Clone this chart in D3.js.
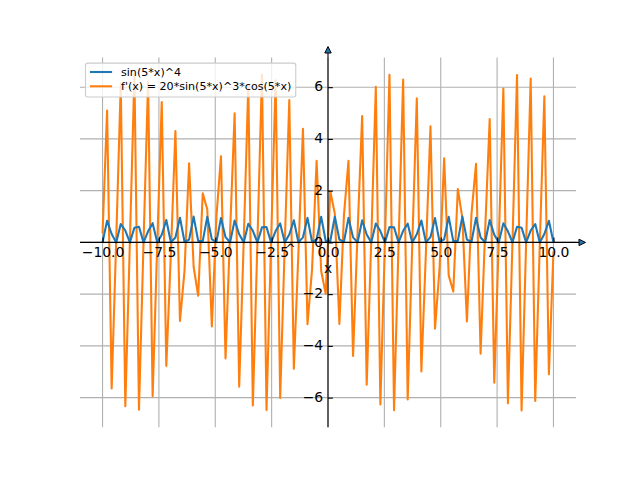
<html lang="en">
  <head>
    <meta charset="UTF-8" />
    <title>sin(5x)^4</title>
    <script src="https://d3js.org/d3.v7.min.js"></script>
    <style>
      * {
        margin: 0;
        padding: 0;
      }
      body {
        background: #ffffff;
      }
      text {
        font-family: "DejaVu Sans", sans-serif;
      }
    </style>
  </head>

  <body>
    <div id="svgContainer"></div>
    <script>
      // sample positions (100 points, -10 .. 10)
      const xs = [
        -10.0, -9.798, -9.596, -9.394, -9.192, -8.99, -8.788, -8.586, -8.384, -8.182,
        -7.98, -7.778, -7.576, -7.374, -7.172, -6.97, -6.768, -6.566, -6.364, -6.162,
        -5.96, -5.758, -5.556, -5.354, -5.152, -4.949, -4.747, -4.545, -4.343, -4.141,
        -3.939, -3.737, -3.535, -3.333, -3.131, -2.929, -2.727, -2.525, -2.323, -2.121,
        -1.919, -1.717, -1.515, -1.313, -1.111, -0.909, -0.707, -0.505, -0.303, -0.101,
        0.101, 0.303, 0.505, 0.707, 0.909, 1.111, 1.313, 1.515, 1.717, 1.919,
        2.121, 2.323, 2.525, 2.727, 2.929, 3.131, 3.333, 3.535, 3.737, 3.939,
        4.141, 4.343, 4.545, 4.747, 4.949, 5.152, 5.354, 5.556, 5.758, 5.96,
        6.162, 6.364, 6.566, 6.768, 6.97, 7.172, 7.374, 7.576, 7.778, 7.98,
        8.182, 8.384, 8.586, 8.788, 8.99, 9.192, 9.394, 9.596, 9.798, 10.0,
      ];

      // sin(5*x)^4
      const sinVals = [
        0.0047, 0.8379, 0.3252, 0.0006, 0.7118, 0.4594, 0.0, 0.57, 0.6031, 0.0,
        0.4274, 0.7426, 0.001, 0.297, 0.8631, 0.0068, 0.1883, 0.9508, 0.0235, 0.1064,
        0.9956, 0.0582, 0.0515, 0.9918, 0.1171, 0.0199, 0.94, 0.2032, 0.0054, 0.8464,
        0.3157, 0.0007, 0.7221, 0.4487, 0.0, 0.5811, 0.5921, 0.0, 0.438, 0.7324,
        0.0008, 0.3063, 0.8548, 0.006, 0.1957, 0.9466, 0.0217, 0.1117, 0.9938, 0.0548,
        0.0548, 0.9938, 0.1117, 0.0217, 0.9466, 0.1957, 0.006, 0.8548, 0.3063, 0.0008,
        0.7324, 0.438, 0.0, 0.5921, 0.5811, 0.0, 0.4487, 0.7221, 0.0007, 0.3157,
        0.8464, 0.0054, 0.2032, 0.94, 0.0199, 0.1171, 0.9918, 0.0515, 0.0582, 0.9956,
        0.1064, 0.0235, 0.9508, 0.1883, 0.0068, 0.8631, 0.297, 0.001, 0.7426, 0.4274,
        0.0, 0.6031, 0.57, 0.0, 0.4594, 0.7118, 0.0006, 0.3252, 0.8379, 0.0047,
      ];

      // f'(x) = 20*sin(5*x)^3*cos(5*x)
      const derivVals = [
        0.349, 5.096, -5.646, 0.072, 6.128, -6.335, 0.002, 6.494, -6.47, -0.006,
        6.221, -5.949, -0.112, 5.428, -4.772, -0.452, 4.301, -3.038, -1.104, 3.058,
        -0.94, -2.065, 1.901, 1.274, -3.247, 0.984, 3.332, -4.486, 0.381, 4.991,
        -5.575, 0.084, 6.072, -6.3, 0.003, 6.49, -6.482, -0.004, 6.262, -6.013,
        -0.097, 5.503, -4.883, -0.416, 4.394, -3.159, -1.043, 3.152, -1.107, -1.983,
        1.983, 1.107, -3.152, 1.043, 3.159, -4.394, 0.416, 4.883, -5.503, 0.097,
        6.013, -6.262, 0.004, 6.482, -6.49, -0.003, 6.3, -6.072, -0.084, 5.575,
        -4.991, -0.381, 4.486, -3.332, -0.984, 3.247, -1.274, -1.901, 2.065, 0.94,
        -3.058, 1.104, 3.038, -4.301, 0.452, 4.772, -5.428, 0.112, 5.949, -6.221,
        0.006, 6.47, -6.494, -0.002, 6.335, -6.128, -0.072, 5.646, -5.096, -0.349,
      ];

      const seriesNames = ["sin(5*x)^4", "f'(x) = 20*sin(5*x)^3*cos(5*x)"];
      const xTicks = [-10, -7.5, -5, -2.5, 0, 2.5, 5, 7.5, 10];
      const yTicks = [-6, -4, -2, 0, 2, 4, 6];

      const width = 640;
      const height = 480;
      const colors = ["#1f77b4", "#ff7f0e"];

      // matplotlib default axes box
      const box = { left: 80, right: 576, top: 57.6, bottom: 427.2 };

      let svg = d3
        .select("#svgContainer")
        .append("svg")
        .attr("width", width)
        .attr("height", height);

      // autoscale like matplotlib: 5% margin on each side
      const xExt = d3.extent(xs);
      const xPad = (xExt[1] - xExt[0]) * 0.05;
      const yExt = d3.extent(sinVals.concat(derivVals));
      const yPad = (yExt[1] - yExt[0]) * 0.05;

      let scaleX = d3
        .scaleLinear()
        .domain([xExt[0] - xPad, xExt[1] + xPad])
        .range([box.left, box.right]);

      let scaleY = d3
        .scaleLinear()
        .domain([yExt[0] - yPad, yExt[1] + yPad])
        .range([box.bottom, box.top]);

      const x0 = scaleX(0);
      const y0 = scaleY(0);

      // grid
      svg
        .append("g")
        .selectAll("line")
        .data(xTicks)
        .join("line")
        .attr("x1", (d) => scaleX(d))
        .attr("x2", (d) => scaleX(d))
        .attr("y1", box.top)
        .attr("y2", box.bottom)
        .attr("stroke", "#b0b0b0")
        .attr("stroke-width", 1.1);

      svg
        .append("g")
        .selectAll("line")
        .data(yTicks)
        .join("line")
        .attr("x1", box.left)
        .attr("x2", box.right)
        .attr("y1", (d) => scaleY(d))
        .attr("y2", (d) => scaleY(d))
        .attr("stroke", "#b0b0b0")
        .attr("stroke-width", 1.1);

      // curves
      const line = d3
        .line()
        .x((d, i) => scaleX(xs[i]))
        .y((d) => scaleY(d));

      svg
        .append("path")
        .attr("d", line(derivVals))
        .attr("fill", "none")
        .attr("stroke", colors[1])
        .attr("stroke-width", 2.08)
        .attr("stroke-linejoin", "round");

      svg
        .append("path")
        .attr("d", line(sinVals))
        .attr("fill", "none")
        .attr("stroke", colors[0])
        .attr("stroke-width", 2.08)
        .attr("stroke-linejoin", "round");

      // centered axes, ticks pointing inward
      let axisX = d3
        .axisBottom(scaleX)
        .tickValues(xTicks)
        .tickFormat(d3.format(".1f"))
        .tickSizeInner(-4.86)
        .tickSizeOuter(0)
        .tickPadding(4.9);

      let gx = svg
        .append("g")
        .attr("transform", `translate(0, ${y0})`)
        .call(axisX);

      let axisY = d3
        .axisLeft(scaleY)
        .tickValues(yTicks)
        .tickFormat(d3.format("d"))
        .tickSizeInner(-4.86)
        .tickSizeOuter(0)
        .tickPadding(4.9);

      let gy = svg
        .append("g")
        .attr("transform", `translate(${x0}, 0)`)
        .call(axisY);

      [gx, gy].forEach((g) => {
        g.select(".domain").remove();
        g.attr("font-family", "DejaVu Sans").attr("font-size", 13.9);
        g.selectAll(".tick line").attr("stroke", "#000").attr("stroke-width", 1.1);
        g.selectAll(".tick text").attr("fill", "#000");
      });
      gy.selectAll(".tick text").attr("dy", "0.27em");

      // spines with arrow heads
      svg
        .append("line")
        .attr("x1", box.left)
        .attr("x2", 580)
        .attr("y1", y0)
        .attr("y2", y0)
        .attr("stroke", "#000")
        .attr("stroke-width", 1.1);

      svg
        .append("line")
        .attr("x1", x0)
        .attr("x2", x0)
        .attr("y1", box.bottom)
        .attr("y2", 52)
        .attr("stroke", "#000")
        .attr("stroke-width", 1.1);

      svg
        .append("path")
        .attr("d", `M${x0},46.5 L${x0 - 3.2},53 L${x0 + 3.2},53 Z`)
        .attr("fill", colors[0])
        .attr("stroke", "#000")
        .attr("stroke-width", 1);

      svg
        .append("path")
        .attr("d", `M585.5,${y0} L579,${y0 - 3.2} L579,${y0 + 3.2} Z`)
        .attr("fill", colors[0])
        .attr("stroke", "#000")
        .attr("stroke-width", 1);

      // axis labels
      svg
        .append("text")
        .attr("x", x0)
        .attr("y", 273)
        .attr("text-anchor", "middle")
        .attr("font-size", 13.9)
        .text("x");

      svg
        .append("text")
        .attr("x", 290.5)
        .attr("y", 252.5)
        .attr("text-anchor", "middle")
        .attr("font-size", 12)
        .text("^");

      // legend
      const fs = 11.1;
      let legend = svg.append("g").attr("class", "legend");

      let frame = legend
        .append("rect")
        .attr("x", 85.5)
        .attr("y", 63.1)
        .attr("rx", 2.2)
        .attr("fill", "#fff")
        .attr("fill-opacity", 0.8)
        .attr("stroke", "#cccccc")
        .attr("stroke-width", 1.1);

      const rowY = [72, 86.3];
      legend
        .selectAll("line.key")
        .data(seriesNames)
        .join("line")
        .attr("class", "key")
        .attr("x1", 89.9)
        .attr("x2", 112.1)
        .attr("y1", (d, i) => rowY[i])
        .attr("y2", (d, i) => rowY[i])
        .attr("stroke", (d, i) => colors[i])
        .attr("stroke-width", 2.08);

      let labels = legend
        .selectAll("text")
        .data(seriesNames)
        .join("text")
        .attr("x", 121)
        .attr("y", (d, i) => rowY[i] + 4)
        .attr("font-size", fs)
        .text((d) => d);

      let maxLen = d3.max(labels.nodes(), (n) => n.getComputedTextLength());
      frame
        .attr("width", 121 + maxLen + 0.4 * fs - 85.5)
        .attr("height", 97 - 63.1);
    </script>
  </body>
</html>
